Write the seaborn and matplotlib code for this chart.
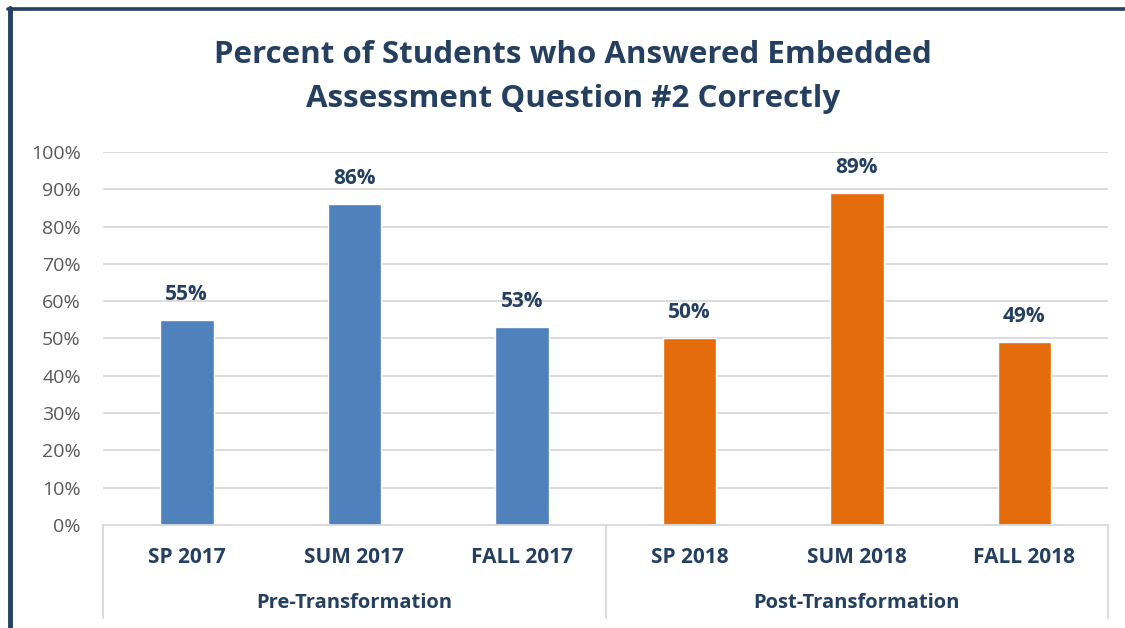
import numpy as np
import pandas as pd
import matplotlib
matplotlib.use("Agg")
import matplotlib.pyplot as plt
from matplotlib.lines import Line2D
from matplotlib.ticker import PercentFormatter
import seaborn as sns

# data
TERMS = ['SP 2017', 'SUM 2017', 'FALL 2017', 'SP 2018', 'SUM 2018', 'FALL 2018']
PERCENTS = [55, 86, 53, 50, 89, 49]
GROUPS = ['Pre-Transformation'] * 3 + ['Post-Transformation'] * 3
GROUP_NAMES = ['Pre-Transformation', 'Post-Transformation']
Y_TICKS = list(range(0, 101, 10))

NAVY = '#243F60'
BLUE = '#4F81BD'
ORANGE = '#E46C0A'
GRAY_TXT = '#595959'
GRID = '#D9D9D9'

df = pd.DataFrame({'term': TERMS, 'pct': PERCENTS, 'group': GROUPS})

sns.set_theme(style='white')
plt.rcParams['font.family'] = ['Open Sans', 'DejaVu Sans']

fig = plt.figure(figsize=(11.25, 6.28), dpi=100)
ax = fig.add_axes([0.0916, 0.164, 0.8934, 0.594])

sns.barplot(data=df, x='term', y='pct', hue='group', hue_order=GROUP_NAMES,
            palette=[BLUE, ORANGE], dodge=False, width=0.32, legend=False,
            saturation=1, ax=ax)

ax.set_ylim(0, 100)
ax.set_xlim(-0.5, len(TERMS) - 0.5)
ax.set_yticks(Y_TICKS)
ax.yaxis.set_major_formatter(PercentFormatter(decimals=0))
ax.grid(axis='y', color=GRID, linewidth=1.3)
ax.set_axisbelow(True)
for s in ['top', 'right', 'left']:
    ax.spines[s].set_visible(False)
ax.spines['bottom'].set_color(GRID)
ax.spines['bottom'].set_linewidth(1.3)
ax.tick_params(axis='y', length=0, labelsize=14, labelcolor=GRAY_TXT, pad=16)
ax.tick_params(axis='x', length=0, labelsize=15, labelcolor=NAVY, pad=16)
for t in ax.get_xticklabels():
    t.set_fontweight('bold')
ax.set_xlabel('')
ax.set_ylabel('')

# value labels
for i, v in enumerate(PERCENTS):
    ax.annotate(f'{v}%', (i, v), xytext=(0, 11), textcoords='offset points',
                ha='center', va='bottom', fontsize=15, fontweight='bold', color=NAVY)

# group labels and separators under the axis
trans = ax.get_xaxis_transform()
for gi, name in enumerate(GROUP_NAMES):
    ax.text(gi * 3 + 1, -0.208, name, transform=trans, ha='center', va='center',
            fontsize=14.5, fontweight='bold', color=NAVY)
for xb in [-0.5, 2.5, 5.5]:
    ax.add_line(Line2D([xb, xb], [0, -0.25], transform=trans, color=GRID,
                       linewidth=1.3, clip_on=False))

fig.text(0.509, 0.877, 'Percent of Students who Answered Embedded\nAssessment Question #2 Correctly',
         ha='center', va='center', fontsize=22.5, fontweight='bold', color=NAVY,
         linespacing=1.6)

# chart frame (left and top edges)
fig.add_artist(Line2D([0.0089, 0.0089], [0, 0.987], color=NAVY, linewidth=3.5))
fig.add_artist(Line2D([0.007, 1.0], [0.985, 0.985], color=NAVY, linewidth=2.6))

fig.savefig('out.png', dpi=100)
